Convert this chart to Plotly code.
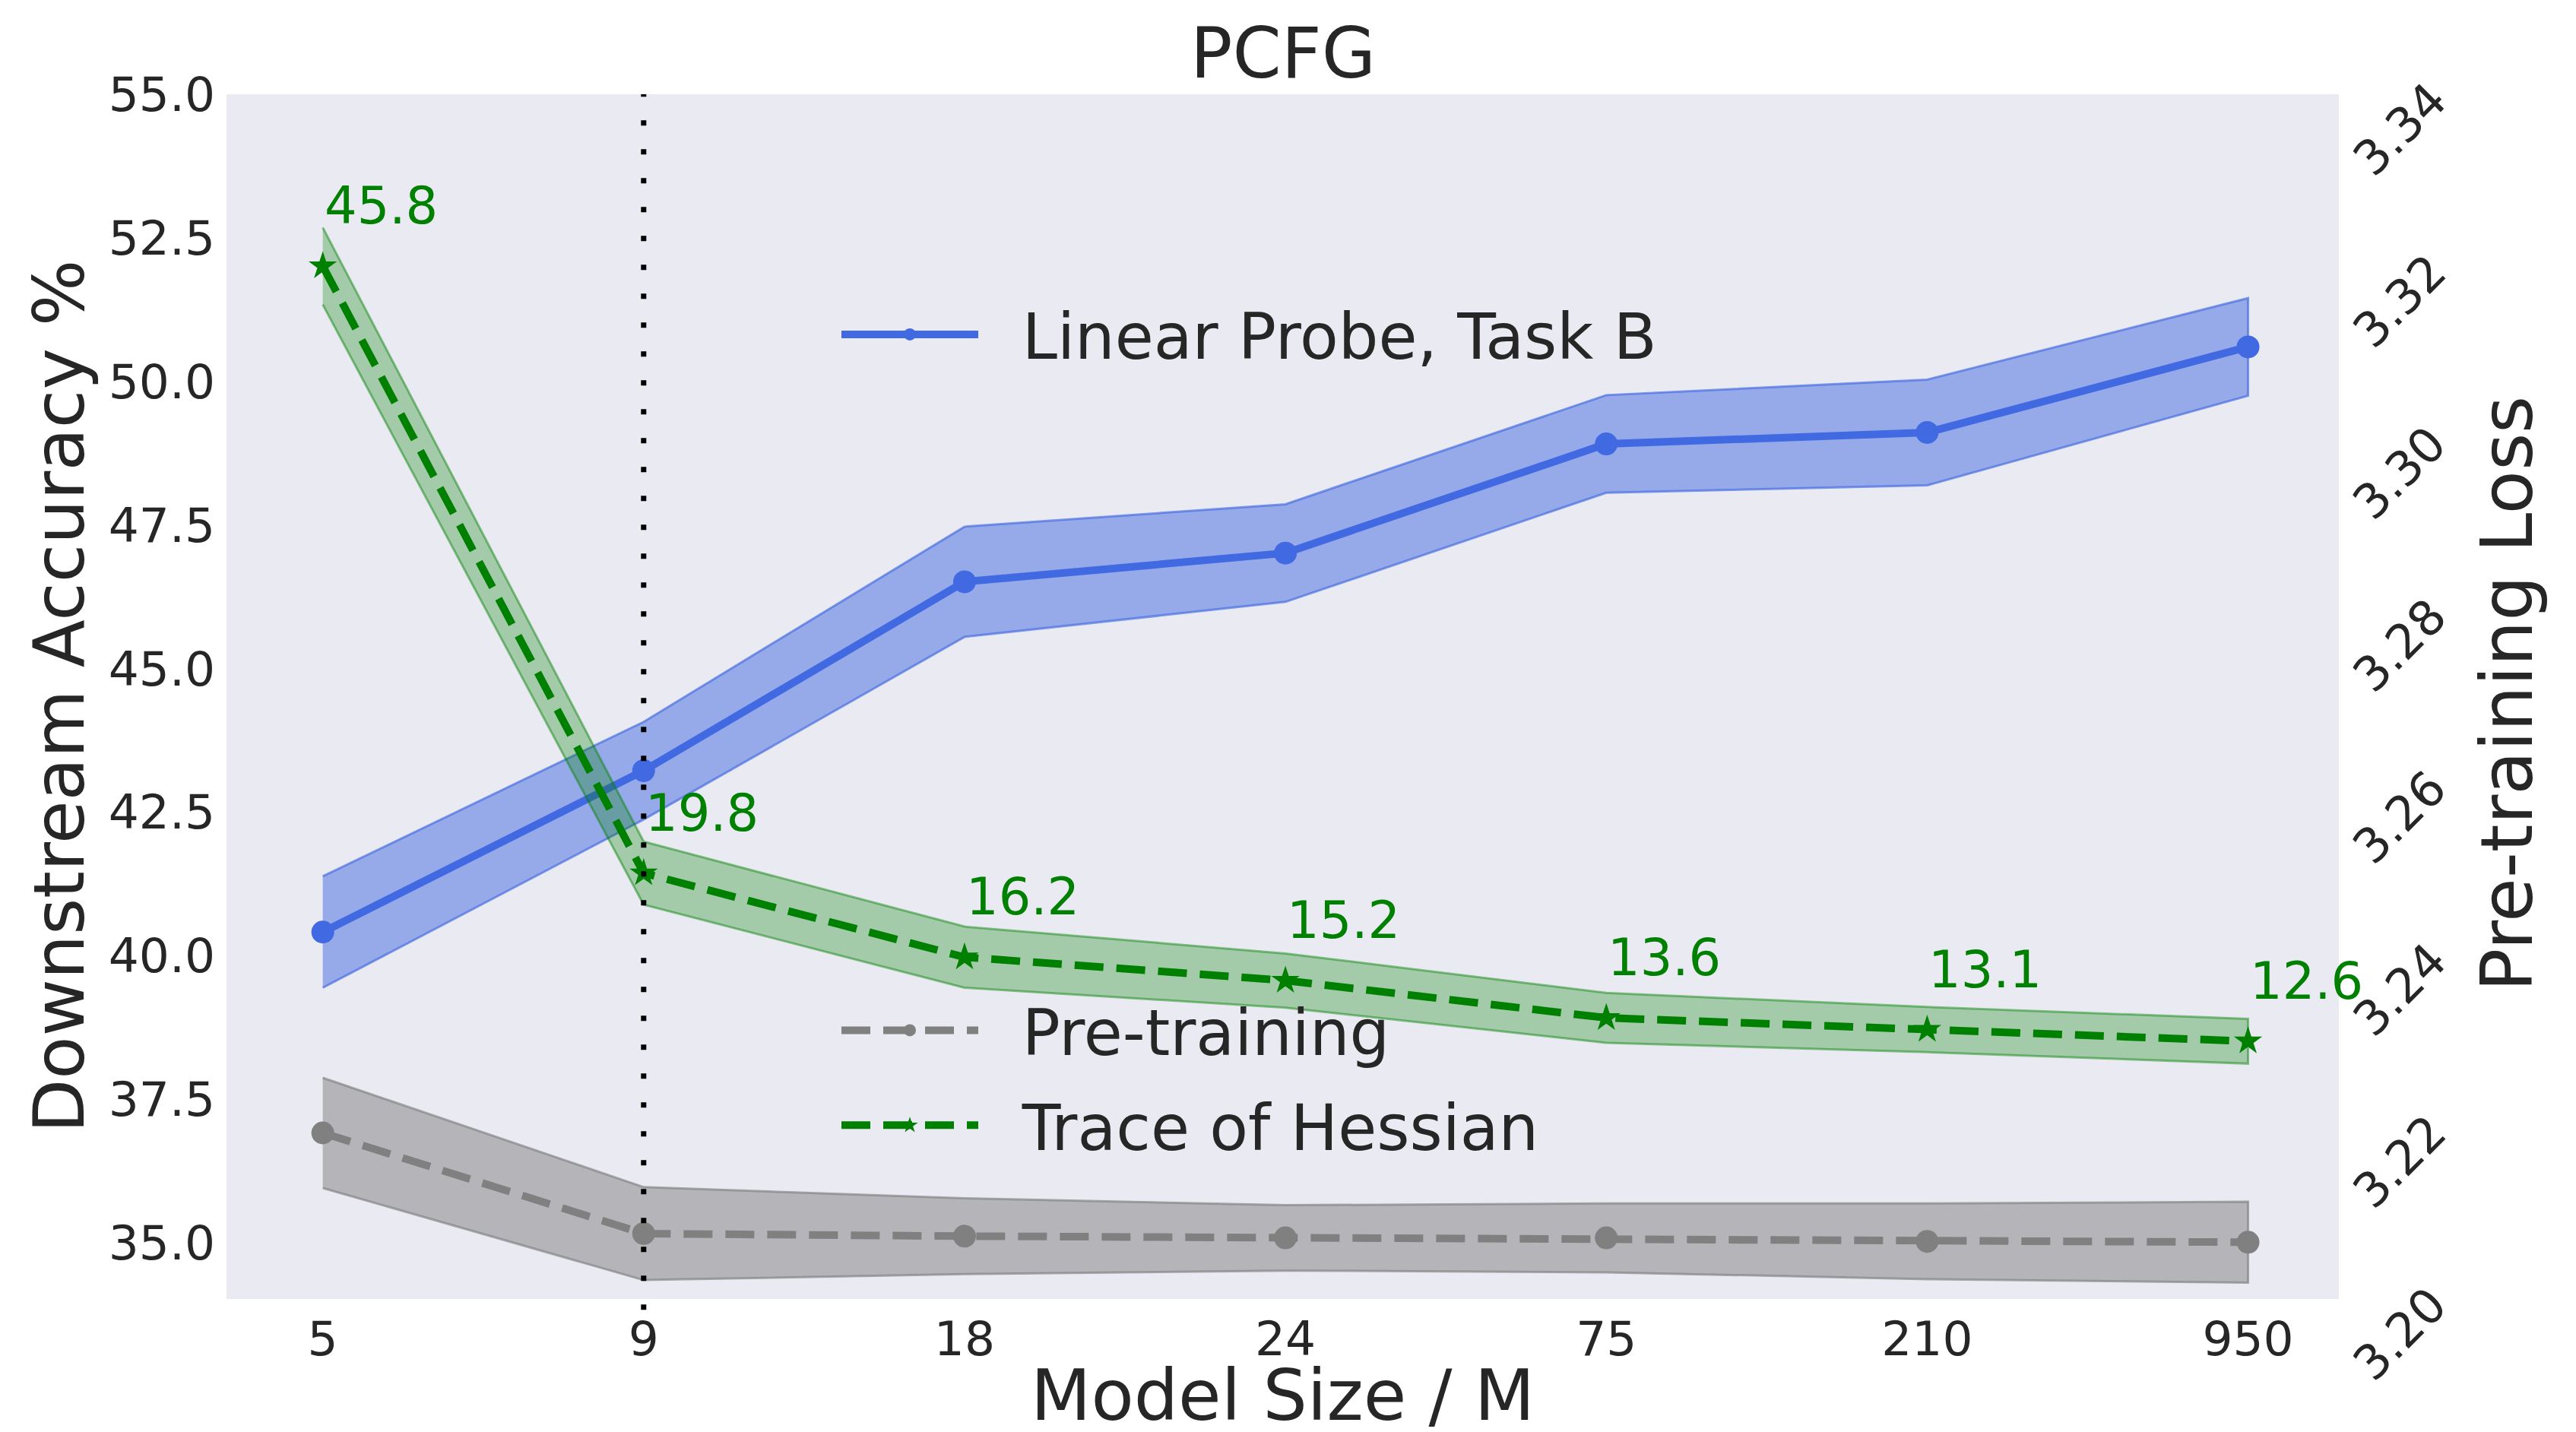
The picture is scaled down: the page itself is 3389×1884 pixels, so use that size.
import plotly.graph_objects as go

# ---------------- data ----------------
model_sizes = ["5", "9", "18", "24", "75", "210", "950"]
probe_acc = [40.41, 43.22, 46.51, 47.01, 48.91, 49.11, 50.60]
probe_err = [0.97, 0.85, 0.96, 0.85, 0.85, 0.92, 0.85]
pretrain_loss = [3.2193, 3.2076, 3.2073, 3.2071, 3.2071, 3.2067, 3.2066]
pretrain_err = [0.0064, 0.0054, 0.0044, 0.0038, 0.0040, 0.0044, 0.0047]
hessian_trace = [45.8, 19.8, 16.2, 15.2, 13.6, 13.1, 12.6]
hessian_err = [1.65, 1.35, 1.31, 1.16, 1.07, 0.97, 0.96]
left_ticks = [35.0, 37.5, 40.0, 42.5, 45.0, 47.5, 50.0, 52.5, 55.0]
right_ticks = [3.20, 3.22, 3.24, 3.26, 3.28, 3.30, 3.32, 3.34]
vline_at = "9"

# ---------------- style ----------------
W, H = 3389, 1884
L, R, T, B = 298, 3077, 124, 1709
PW, PH = R - L, B - T
FONT = "DejaVu Sans"
TXT = "#262626"
BG = "#EAEAF2"
GAP = "\u00a0\u00a0"  # spacing between legend symbol and its label

def px2paper_x(px):
    return (px - L) / PW

def px2paper_y(py):
    return (B - py) / PH

xs = list(range(len(model_sizes)))

fig = go.Figure()

def band(x, y, e, color_rgb, alpha, yaxis):
    up = [a + b for a, b in zip(y, e)]
    lo = [a - b for a, b in zip(y, e)]
    return go.Scatter(
        x=x + x[::-1], y=up + lo[::-1], fill="toself",
        fillcolor=f"rgba({color_rgb},{alpha})",
        line=dict(color=f"rgba({color_rgb},{min(1, alpha + 0.15)})", width=3),
        mode="lines", hoverinfo="skip", showlegend=False, yaxis=yaxis)

# Linear probe (left axis)
fig.add_trace(band(xs, probe_acc, probe_err, "65,105,225", 0.5, "y"))
fig.add_trace(go.Scatter(
    x=xs, y=probe_acc, mode="lines+markers", name=GAP + "Linear Probe, Task B",
    line=dict(color="royalblue", width=10),
    marker=dict(symbol="circle", size=30, color="royalblue"),
    yaxis="y", legend="legend"))

# Pre-training loss (right axis)
fig.add_trace(band(xs, pretrain_loss, pretrain_err, "128,128,128", 0.5, "y2"))
fig.add_trace(go.Scatter(
    x=xs, y=pretrain_loss, mode="lines+markers", name=GAP + "Pre-training",
    line=dict(color="gray", width=10, dash="38px,17px"),
    marker=dict(symbol="circle", size=30, color="gray"),
    yaxis="y2", legend="legend2", legendgroup="a"))

# Trace of Hessian (hidden third axis)
fig.add_trace(band(xs, hessian_trace, hessian_err, "0,128,0", 0.3, "y3"))
fig.add_trace(go.Scatter(
    x=xs, y=hessian_trace, mode="lines+markers", name=GAP + "Trace of Hessian",
    line=dict(color="green", width=10, dash="38px,17px"),
    marker=dict(symbol="star", size=28, color="green"),
    yaxis="y3", legend="legend2", legendgroup="b"))

annotations = []
for xi, v in zip(xs, hessian_trace):
    annotations.append(dict(
        x=xi, y=v, xref="x", yref="y3", text=f"{v:.1f}", showarrow=False,
        xanchor="left", yanchor="bottom", xshift=0, yshift=38,
        font=dict(family=FONT, size=67, color="green")))

for t in right_ticks:
    annotations.append(dict(
        x=1, y=t, xref="paper", yref="y2", text=f"{t:.2f}", showarrow=False,
        xanchor="center", yanchor="middle", xshift=80, yshift=-46, textangle=-45,
        font=dict(family=FONT, size=63, color=TXT)))

# Titles
annotations.append(dict(x=0.5, y=1, xref="paper", yref="paper", text="PCFG",
                        showarrow=False, xanchor="center", yanchor="middle", yshift=54,
                        font=dict(family=FONT, size=92, color=TXT)))
annotations.append(dict(x=0.5, y=0, xref="paper", yref="paper", text="Model Size / M",
                        showarrow=False, xanchor="center", yanchor="middle", yshift=-127,
                        borderpad=0, font=dict(family=FONT, size=92, color=TXT)))
annotations.append(dict(x=0, y=0.5, xref="paper", yref="paper", text="Downstream Accuracy %",
                        showarrow=False, xanchor="center", yanchor="middle", xshift=-220,
                        textangle=-90, font=dict(family=FONT, size=92, color=TXT)))
annotations.append(dict(x=1, y=0.5, xref="paper", yref="paper", text="Pre-training Loss",
                        showarrow=False, xanchor="center", yanchor="middle", xshift=221,
                        yshift=4, textangle=-90, font=dict(family=FONT, size=94, color=TXT)))

vx = model_sizes.index(vline_at)
shapes = [dict(type="line", xref="x", yref="paper", x0=vx, x1=vx, y0=-0.009, y1=1,
               line=dict(color="black", width=7, dash="7px,31px"), layer="above")]

fig.update_layout(
    width=W, height=H,
    margin=dict(l=L, r=W - R, t=T, b=H - B, pad=0),
    paper_bgcolor="white", plot_bgcolor=BG,
    font=dict(family=FONT, color=TXT, size=63),
    showlegend=True,
    xaxis=dict(range=[-0.3, 6.283], tickmode="array", tickvals=xs, ticktext=model_sizes,
               showgrid=False, zeroline=False, showline=False, ticks="",
               ticklabelstandoff=10, tickfont=dict(size=63, family=FONT, color=TXT)),
    yaxis=dict(range=[34.02, 55.0], tickmode="array", tickvals=left_ticks,
               ticktext=[f"{v:.1f}" for v in left_ticks],
               showgrid=False, zeroline=False, showline=False, ticks="",
               ticklabelstandoff=14, tickfont=dict(size=63, family=FONT, color=TXT)),
    yaxis2=dict(range=[3.20, 3.34], overlaying="y", side="right", showgrid=False,
                zeroline=False, showline=False, ticks="", showticklabels=False),
    yaxis3=dict(range=[1.56, 53.16], overlaying="y", visible=False, showgrid=False,
                zeroline=False),
    legend=dict(x=px2paper_x(1102), y=px2paper_y(440), xanchor="left", yanchor="middle",
                bgcolor="rgba(0,0,0,0)", font=dict(family=FONT, size=83, color=TXT),
                itemwidth=180),
    legend2=dict(x=px2paper_x(1102), y=px2paper_y(1418), xanchor="left", yanchor="middle",
                 bgcolor="rgba(0,0,0,0)", font=dict(family=FONT, size=83, color=TXT),
                 itemwidth=180, traceorder="grouped", tracegroupgap=14),
    annotations=annotations, shapes=shapes,
)

fig.write_html("out.html")
